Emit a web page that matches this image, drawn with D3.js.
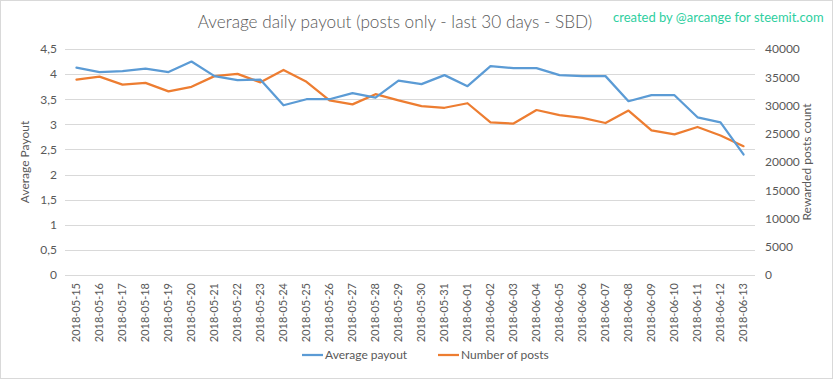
<!DOCTYPE html>
<html><head><meta charset="utf-8">
<script src="https://cdn.jsdelivr.net/npm/d3@7"></script>
<style>
html,body{margin:0;padding:0;background:#fff;}
svg{display:block;font-family:Lato,"Open Sans",sans-serif;}
</style></head>
<body>
<svg id="chart" width="833" height="379"></svg>
<script>
const dates = ["2018-05-15","2018-05-16","2018-05-17","2018-05-18","2018-05-19","2018-05-20","2018-05-21","2018-05-22","2018-05-23","2018-05-24","2018-05-25","2018-05-26","2018-05-27","2018-05-28","2018-05-29","2018-05-30","2018-05-31","2018-06-01","2018-06-02","2018-06-03","2018-06-04","2018-06-05","2018-06-06","2018-06-07","2018-06-08","2018-06-09","2018-06-10","2018-06-11","2018-06-12","2018-06-13"];
const avgPayout = [4.13,4.04,4.06,4.11,4.04,4.25,3.96,3.88,3.89,3.38,3.50,3.50,3.62,3.53,3.87,3.80,3.98,3.76,4.16,4.12,4.12,3.98,3.96,3.96,3.46,3.58,3.58,3.14,3.04,2.40];
const postCount = [34600,35100,33700,34000,32500,33300,35200,35600,34100,36300,34200,30900,30200,32000,30900,29900,29600,30400,27000,26800,29200,28300,27800,26900,29100,25600,24900,26200,24700,22800];
const leftTicks = [0,0.5,1,1.5,2,2.5,3,3.5,4,4.5];
const rightTicks = [0,5000,10000,15000,20000,25000,30000,35000,40000];

const svg = d3.select("#chart");
const W = 833, H = 379;
const plot = {l:65, r:755, t:49, b:275};
const txt = "#595959";

svg.append("rect").attr("x",0.5).attr("y",0.5).attr("width",W-1).attr("height",H-1)
  .attr("fill","#fff").attr("stroke","#d9d9d9");

const x = d3.scaleBand().domain(dates).range([plot.l, plot.r]);
const yL = d3.scaleLinear().domain([0,4.5]).range([plot.b, plot.t]);
const yR = d3.scaleLinear().domain([0,40000]).range([plot.b, plot.t]);

// grid
svg.append("g").selectAll("line").data(leftTicks).join("line")
  .attr("x1",plot.l).attr("x2",plot.r)
  .attr("y1",d=>Math.round(yL(d))+0.5).attr("y2",d=>Math.round(yL(d))+0.5)
  .attr("stroke","#d9d9d9").attr("stroke-width",1);

// left axis
const fmtL = d => String(d).replace(".", ",");
const gL = svg.append("g").attr("transform",`translate(${plot.l},0)`)
  .call(d3.axisLeft(yL).tickValues(leftTicks).tickFormat(fmtL).tickSize(0).tickPadding(8));
gL.select(".domain").remove();
gL.selectAll("text").attr("fill",txt).style("font-size","12px").style("font-family","Lato,sans-serif");

// right axis
const gR = svg.append("g").attr("transform",`translate(${plot.r},0)`)
  .call(d3.axisRight(yR).tickValues(rightTicks).tickFormat(d=>String(d)).tickSize(0).tickPadding(10));
gR.select(".domain").remove();
gR.selectAll("text").attr("fill",txt).style("font-size","12px").style("font-family","Lato,sans-serif");

// x axis
const gX = svg.append("g").attr("transform",`translate(0,${plot.b})`)
  .call(d3.axisBottom(x).tickSize(0).tickPadding(0));
gX.select(".domain").remove();
gX.selectAll("text").attr("fill",txt).style("font-size","11px").style("font-family","Lato,sans-serif")
  .attr("transform","rotate(-90)").attr("text-anchor","end").attr("dx","-8px").attr("dy","0.32em").attr("y",0).attr("x",0);

// lines
const cx = d => x(d) + x.bandwidth()/2;
const lineL = d3.line().x((d,i)=>cx(dates[i])).y(d=>yL(d));
const lineR = d3.line().x((d,i)=>cx(dates[i])).y(d=>yR(d));
svg.append("path").datum(postCount).attr("d",lineR).attr("fill","none")
  .attr("stroke","#ed7d31").attr("stroke-width",2.25).attr("stroke-linejoin","round").attr("stroke-linecap","round");
svg.append("path").datum(avgPayout).attr("d",lineL).attr("fill","none")
  .attr("stroke","#5b9bd5").attr("stroke-width",2.25).attr("stroke-linejoin","round").attr("stroke-linecap","round");

// titles
svg.append("text").attr("x",395).attr("y",28).attr("text-anchor","middle")
  .attr("fill",txt).style("font-size","17.2px").style("font-weight",300).text("Average daily payout (posts only - last 30 days - SBD)");
svg.append("text").attr("x",613).attr("y",22).attr("fill","#2fcf9f")
  .style("font-size","13px").text("created by @arcange for steemit.com");

svg.append("text").attr("transform",`translate(29,${(plot.t+plot.b)/2}) rotate(-90)`).attr("text-anchor","middle")
  .attr("fill",txt).style("font-size","12px").text("Average Payout");
svg.append("text").attr("transform",`translate(811,${(plot.t+plot.b)/2}) rotate(-90)`).attr("text-anchor","middle")
  .attr("fill",txt).style("font-size","12px").text("Rewarded posts count");

// legend
const legend = [{name:"Average payout",color:"#5b9bd5",x:302},{name:"Number of posts",color:"#ed7d31",x:438}];
const lg = svg.append("g").selectAll("g").data(legend).join("g").attr("transform",d=>`translate(${d.x},355)`);
lg.append("line").attr("x1",0).attr("x2",21).attr("y1",0).attr("y2",0).attr("stroke",d=>d.color).attr("stroke-width",2.25);
lg.append("text").attr("x",23).attr("y",0).attr("dy","0.35em").attr("fill",txt).style("font-size","12px").text(d=>d.name);
</script>
</body></html>
